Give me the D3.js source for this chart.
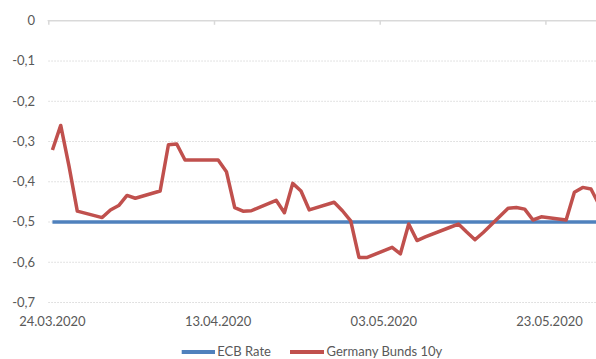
<!DOCTYPE html>
<html>
<head>
<meta charset="utf-8">
<script src="https://cdn.jsdelivr.net/npm/d3@7"></script>
<style>
  html, body { margin: 0; padding: 0; background: #fff; }
  svg { display: block; }
  text { font-family: Lato, "Open Sans", sans-serif; fill: #595959; }
</style>
</head>
<body>
<svg id="chart" width="596" height="359"></svg>
<script>
// Trading days (dd.mm.yyyy)
const dates = [
  "24.03.2020","25.03.2020","26.03.2020","27.03.2020","30.03.2020","31.03.2020",
  "01.04.2020","02.04.2020","03.04.2020","06.04.2020","07.04.2020","08.04.2020",
  "09.04.2020","10.04.2020","13.04.2020","14.04.2020","15.04.2020","16.04.2020",
  "17.04.2020","20.04.2020","21.04.2020","22.04.2020","23.04.2020","24.04.2020",
  "27.04.2020","28.04.2020","29.04.2020","30.04.2020","01.05.2020","04.05.2020",
  "05.05.2020","06.05.2020","07.05.2020","08.05.2020","11.05.2020","12.05.2020",
  "13.05.2020","14.05.2020","15.05.2020","18.05.2020","19.05.2020","20.05.2020",
  "21.05.2020","22.05.2020","25.05.2020","26.05.2020","27.05.2020","28.05.2020",
  "29.05.2020"
];

// ECB deposit rate, %
const ecbRate = [
  -0.5,-0.5,-0.5,-0.5,-0.5,-0.5,-0.5,-0.5,-0.5,-0.5,-0.5,-0.5,
  -0.5,-0.5,-0.5,-0.5,-0.5,-0.5,-0.5,-0.5,-0.5,-0.5,-0.5,-0.5,
  -0.5,-0.5,-0.5,-0.5,-0.5,-0.5,-0.5,-0.5,-0.5,-0.5,-0.5,-0.5,
  -0.5,-0.5,-0.5,-0.5,-0.5,-0.5,-0.5,-0.5,-0.5,-0.5,-0.5,-0.5,
  -0.5
];

// Germany 10y Bund yield, %
const bunds10y = [
  -0.321,-0.260,-0.361,-0.473,-0.489,-0.470,
  -0.459,-0.434,-0.441,-0.423,-0.308,-0.306,
  -0.346,-0.346,-0.346,-0.375,-0.464,-0.473,
  -0.472,-0.446,-0.477,-0.404,-0.423,-0.470,
  -0.451,-0.472,-0.497,-0.588,-0.588,-0.563,
  -0.579,-0.505,-0.546,-0.537,-0.513,-0.505,
  -0.525,-0.544,-0.526,-0.466,-0.464,-0.468,
  -0.495,-0.487,-0.495,-0.426,-0.414,-0.418,
  -0.458
];

const xTickDates = ["24.03.2020","13.04.2020","03.05.2020","23.05.2020"];
const yTicks = [0, -0.1, -0.2, -0.3, -0.4, -0.5, -0.6, -0.7];
const seriesNames = ["ECB Rate", "Germany Bunds 10y"];
const seriesColors = ["#4F81BD", "#C0504D"];

const parse = d3.utcParse("%d.%m.%Y");
const fmtDate = d3.utcFormat("%d.%m.%Y");
const fmtVal = v => v === 0 ? "0" : d3.format(".1f")(v).replace(".", ",").replace("−", "-");
const halfDay = 12 * 3600 * 1000;

const svg = d3.select("#chart");

// Each day occupies one slot; ticks sit on slot edges, points and labels in slot centres.
const x = d3.scaleUtc()
  .domain([parse("24.03.2020"), parse("30.05.2020")])
  .range([48.3, 48.3 + 67 * 8.285]);
const y = d3.scaleLinear().domain([-0.7, 0]).range([302.5, 20.8]);

// Dotted horizontal gridlines
svg.append("g")
  .selectAll("line")
  .data(yTicks.filter(v => v !== 0))
  .join("line")
  .attr("x1", 48.3).attr("x2", 620)
  .attr("y1", d => y(d)).attr("y2", d => y(d))
  .attr("stroke", "#d9d9d9")
  .attr("stroke-width", 1)
  .attr("stroke-dasharray", "1.5,1.5");

// Y axis labels
svg.append("g")
  .selectAll("text")
  .data(yTicks)
  .join("text")
  .attr("x", 35)
  .attr("y", d => y(d) + 4.4)
  .attr("text-anchor", "end")
  .attr("font-size", 13)
  .text(fmtVal);

// Category axis along the zero line, ticks pointing down
const xAxis = d3.axisBottom(x)
  .tickValues(xTickDates.map(parse))
  .tickSize(4)
  .tickFormat("");
const gx = svg.append("g")
  .attr("transform", `translate(0,${y(0)})`)
  .call(xAxis);
gx.select(".domain").attr("stroke", "#d9d9d9").attr("stroke-width", 1.5)
  .attr("d", `M48.3,0.5V0H620`);
gx.selectAll(".tick line").attr("stroke", "#d9d9d9").attr("stroke-width", 1.5);

// Date labels at the bottom
svg.append("g")
  .selectAll("text")
  .data(xTickDates.map(parse))
  .join("text")
  .attr("x", d => x(new Date(+d + halfDay)))
  .attr("y", 326)
  .attr("text-anchor", "middle")
  .attr("font-size", 13)
  .text(d => fmtDate(d));

// Series lines
const pts = (vals) => dates.map((d, i) => [new Date(+parse(d) + halfDay), vals[i]]);
const line = d3.line().x(d => x(d[0])).y(d => y(d[1]));

// ECB rate runs across the whole plot width
const ecbPts = pts(ecbRate);
ecbPts.push([parse("30.05.2020"), ecbRate[ecbRate.length - 1]]);
svg.append("path")
  .datum(ecbPts)
  .attr("fill", "none")
  .attr("stroke", seriesColors[0])
  .attr("stroke-width", 3.5)
  .attr("d", line);

svg.append("path")
  .datum(pts(bunds10y))
  .attr("fill", "none")
  .attr("stroke", seriesColors[1])
  .attr("stroke-width", 3.5)
  .attr("stroke-linejoin", "round")
  .attr("d", line);

// Legend
const legendItems = [
  { name: seriesNames[0], color: seriesColors[0], x0: 181.7, x1: 215, tx: 217.3 },
  { name: seriesNames[1], color: seriesColors[1], x0: 290, x1: 324, tx: 326.5 }
];
const lg = svg.append("g");
legendItems.forEach(it => {
  lg.append("line")
    .attr("x1", it.x0).attr("x2", it.x1)
    .attr("y1", 352).attr("y2", 352)
    .attr("stroke", it.color).attr("stroke-width", 4);
  lg.append("text")
    .attr("x", it.tx).attr("y", 356)
    .attr("font-size", 13)
    .text(it.name);
});
</script>
</body>
</html>
